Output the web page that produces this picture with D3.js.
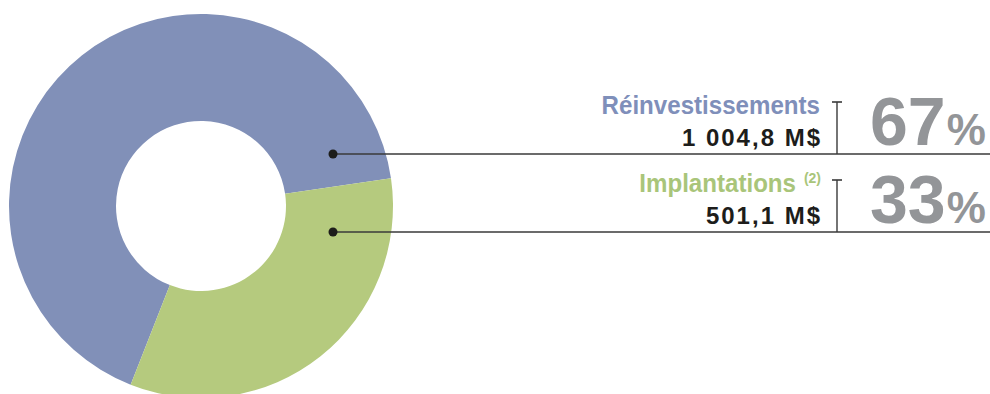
<!DOCTYPE html>
<html><head><meta charset="utf-8">
<script src="https://cdn.jsdelivr.net/npm/d3@7"></script>
<style>
html,body{margin:0;padding:0;background:#fff;}
svg{display:block;}
text{font-family:"Liberation Sans Narrow","Arial Narrow","Liberation Sans",sans-serif;}
</style></head>
<body>
<svg id="chart" width="990" height="394"></svg>
<script>
const categories = ["Réinvestissements", "Implantations"];
const amounts = [1004.8, 501.1];
const amountLabels = ["1 004,8 M$", "501,1 M$"];
const percents = [67, 33];
const notes = ["", "(2)"];
const colors = ["#8190B8", "#B5CA7E"];
const labelColors = ["#7F8FBA", "#A9C57A"];

const svg = d3.select("#chart");
const cx = 201, cy = 206, rOut = 192, rIn = 85;
const deg = Math.PI / 180;
const pie = d3.pie().sort(null).value(d => d)
  .startAngle(-158.5 * deg).endAngle(201.5 * deg);
const arcs = pie(amounts);
const arc = d3.arc().innerRadius(rIn).outerRadius(rOut);
const g = svg.append("g").attr("transform", `translate(${cx},${cy})`);
g.selectAll("path").data(arcs).enter().append("path")
  .attr("d", arc).attr("fill", (d, i) => colors[i]);

const rowY = [154, 232];
const dotX = 333;
const vx = 837;
rowY.forEach((y, i) => {
  svg.append("line").attr("x1", dotX).attr("x2", 990).attr("y1", y).attr("y2", y)
    .attr("stroke", "#3a3a3a").attr("stroke-width", 1.4);
  svg.append("circle").attr("cx", dotX).attr("cy", y).attr("r", 4.5).attr("fill", "#1d1d1b");
  svg.append("line").attr("x1", vx).attr("x2", vx).attr("y1", y - 52).attr("y2", y)
    .attr("stroke", "#3a3a3a").attr("stroke-width", 1.4);
  svg.append("line").attr("x1", vx - 5).attr("x2", vx + 5).attr("y1", y - 52).attr("y2", y - 52)
    .attr("stroke", "#3a3a3a").attr("stroke-width", 1.6);
  // category label (condensed)
  const endX = notes[i] ? 796 : 820;
  svg.append("text")
    .attr("transform", `translate(${endX},${y - 40}) scale(0.91,1)`)
    .attr("text-anchor", "end").attr("font-size", 26.5).attr("font-weight", "bold")
    .attr("fill", labelColors[i]).text(categories[i]);
  if (notes[i]) {
    svg.append("text").attr("x", 821).attr("y", y - 49)
      .attr("text-anchor", "end").attr("font-size", 14).attr("font-weight", "bold")
      .attr("fill", labelColors[i]).text(notes[i]);
  }
  svg.append("text").attr("x", 822).attr("y", y - 8.5)
    .attr("text-anchor", "end").attr("font-size", 24).attr("font-weight", "bold")
    .attr("letter-spacing", 2)
    .style("font-family", '"Liberation Sans", Arial, sans-serif')
    .attr("fill", "#1d1d1b").text(amountLabels[i]);
  const p = svg.append("text").attr("x", 870).attr("y", y - 9)
    .attr("font-size", 68).attr("font-weight", "bold").attr("fill", "#939598");
  p.append("tspan").text(percents[i]);
  p.append("tspan").attr("font-size", 44).attr("dx", 1).text("%");
});
</script>
</body></html>
